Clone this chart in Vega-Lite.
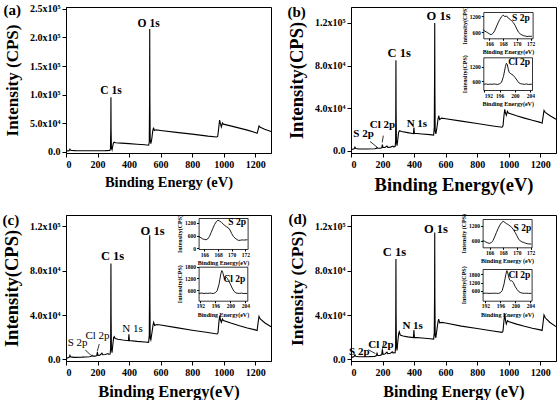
{
"$schema":"https://vega.github.io/schema/vega-lite/v6.json",
"background":"white",
"padding":{"left":2,"top":2,"right":0,"bottom":0},
"bounds":"flush",
"columns":2,
"spacing":{"row":62,"column":80},
"datasets":{
"surveyA":[{"be":0,"cps":800},{"be":10,"cps":1200},{"be":20,"cps":1500},{"be":25,"cps":4000},{"be":28,"cps":2500},{"be":35,"cps":1800},{"be":60,"cps":1500},{"be":100,"cps":1400},{"be":150,"cps":1400},{"be":200,"cps":1400},{"be":250,"cps":1500},{"be":278,"cps":1800},{"be":282,"cps":5000},{"be":284,"cps":40000},{"be":285,"cps":95000},{"be":286,"cps":40000},{"be":288,"cps":6000},{"be":292,"cps":3000},{"be":296,"cps":9000},{"be":300,"cps":14000},{"be":305,"cps":16500},{"be":315,"cps":15500},{"be":350,"cps":14800},{"be":400,"cps":13800},{"be":450,"cps":12800},{"be":500,"cps":11800},{"be":524,"cps":11000},{"be":528,"cps":16000},{"be":530,"cps":90000},{"be":531,"cps":215000},{"be":532,"cps":90000},{"be":534,"cps":20000},{"be":538,"cps":14000},{"be":544,"cps":22000},{"be":550,"cps":36000},{"be":555,"cps":42000},{"be":560,"cps":37000},{"be":570,"cps":38000},{"be":600,"cps":37000},{"be":700,"cps":33500},{"be":800,"cps":30500},{"be":900,"cps":27000},{"be":955,"cps":25500},{"be":962,"cps":26500},{"be":968,"cps":40000},{"be":974,"cps":55000},{"be":980,"cps":48000},{"be":985,"cps":43000},{"be":992,"cps":50000},{"be":998,"cps":48000},{"be":1050,"cps":44500},{"be":1100,"cps":41000},{"be":1150,"cps":37500},{"be":1200,"cps":33500},{"be":1212,"cps":32000},{"be":1218,"cps":38000},{"be":1224,"cps":45000},{"be":1232,"cps":42500},{"be":1260,"cps":39000},{"be":1300,"cps":35000}],
"surveyB":[{"be":0,"cps":1200},{"be":10,"cps":1600},{"be":20,"cps":2000},{"be":25,"cps":3500},{"be":30,"cps":2300},{"be":50,"cps":1900},{"be":100,"cps":1900},{"be":150,"cps":2100},{"be":160,"cps":2400},{"be":165,"cps":3200},{"be":170,"cps":2600},{"be":185,"cps":2500},{"be":195,"cps":2900},{"be":199,"cps":6000},{"be":203,"cps":3200},{"be":215,"cps":3200},{"be":228,"cps":4600},{"be":233,"cps":3400},{"be":250,"cps":3600},{"be":266,"cps":4600},{"be":270,"cps":3900},{"be":280,"cps":4100},{"be":283,"cps":9000},{"be":284,"cps":45000},{"be":285,"cps":85000},{"be":286,"cps":40000},{"be":288,"cps":9000},{"be":292,"cps":5000},{"be":296,"cps":10000},{"be":302,"cps":17500},{"be":308,"cps":19000},{"be":320,"cps":18200},{"be":360,"cps":17200},{"be":396,"cps":16200},{"be":399,"cps":22000},{"be":402,"cps":16500},{"be":450,"cps":15900},{"be":500,"cps":15300},{"be":524,"cps":14900},{"be":528,"cps":22000},{"be":530,"cps":70000},{"be":531,"cps":120000},{"be":532,"cps":60000},{"be":534,"cps":18000},{"be":538,"cps":16000},{"be":545,"cps":22000},{"be":552,"cps":30000},{"be":556,"cps":33000},{"be":562,"cps":29500},{"be":575,"cps":30800},{"be":600,"cps":30200},{"be":700,"cps":28000},{"be":800,"cps":25700},{"be":900,"cps":23400},{"be":958,"cps":22200},{"be":964,"cps":23500},{"be":970,"cps":33000},{"be":975,"cps":39000},{"be":980,"cps":35500},{"be":985,"cps":33500},{"be":992,"cps":37000},{"be":998,"cps":35500},{"be":1050,"cps":33000},{"be":1100,"cps":30800},{"be":1150,"cps":28700},{"be":1200,"cps":26800},{"be":1212,"cps":26000},{"be":1218,"cps":32000},{"be":1224,"cps":38000},{"be":1232,"cps":36200},{"be":1260,"cps":33200},{"be":1300,"cps":29800}],
"surveyC":[{"be":0,"cps":900},{"be":10,"cps":1300},{"be":20,"cps":1800},{"be":25,"cps":3600},{"be":30,"cps":2200},{"be":50,"cps":1800},{"be":100,"cps":2000},{"be":150,"cps":2400},{"be":160,"cps":2700},{"be":165,"cps":3600},{"be":170,"cps":2900},{"be":185,"cps":2900},{"be":195,"cps":3300},{"be":199,"cps":6500},{"be":203,"cps":3600},{"be":215,"cps":3800},{"be":228,"cps":5500},{"be":233,"cps":4200},{"be":250,"cps":4300},{"be":266,"cps":5200},{"be":270,"cps":4600},{"be":280,"cps":4800},{"be":283,"cps":10000},{"be":284,"cps":45000},{"be":285,"cps":86600},{"be":286,"cps":40000},{"be":288,"cps":10000},{"be":292,"cps":6000},{"be":296,"cps":12000},{"be":302,"cps":19500},{"be":306,"cps":20500},{"be":312,"cps":18800},{"be":330,"cps":18200},{"be":360,"cps":17500},{"be":396,"cps":16800},{"be":399,"cps":22500},{"be":402,"cps":17000},{"be":450,"cps":16200},{"be":500,"cps":15600},{"be":524,"cps":15300},{"be":528,"cps":22000},{"be":530,"cps":60000},{"be":531,"cps":112000},{"be":532,"cps":55000},{"be":534,"cps":19000},{"be":538,"cps":17500},{"be":545,"cps":24000},{"be":552,"cps":31000},{"be":556,"cps":33400},{"be":562,"cps":30500},{"be":575,"cps":31500},{"be":600,"cps":31000},{"be":700,"cps":28600},{"be":800,"cps":26300},{"be":900,"cps":24200},{"be":958,"cps":22900},{"be":964,"cps":24000},{"be":970,"cps":34000},{"be":975,"cps":39400},{"be":980,"cps":35500},{"be":985,"cps":33400},{"be":992,"cps":36400},{"be":998,"cps":35000},{"be":1050,"cps":32500},{"be":1100,"cps":30300},{"be":1150,"cps":28300},{"be":1200,"cps":26600},{"be":1212,"cps":26000},{"be":1218,"cps":33000},{"be":1224,"cps":38800},{"be":1232,"cps":36500},{"be":1260,"cps":33000},{"be":1300,"cps":29500}],
"surveyD":[{"be":0,"cps":1500},{"be":10,"cps":2000},{"be":20,"cps":2500},{"be":25,"cps":4200},{"be":30,"cps":2800},{"be":50,"cps":2300},{"be":100,"cps":2400},{"be":150,"cps":2700},{"be":160,"cps":3200},{"be":165,"cps":5500},{"be":170,"cps":3500},{"be":185,"cps":3600},{"be":195,"cps":4200},{"be":199,"cps":9000},{"be":203,"cps":4500},{"be":215,"cps":4800},{"be":228,"cps":6500},{"be":233,"cps":5200},{"be":250,"cps":5500},{"be":262,"cps":6800},{"be":266,"cps":5800},{"be":280,"cps":6000},{"be":283,"cps":12000},{"be":284,"cps":50000},{"be":285,"cps":90500},{"be":286,"cps":42000},{"be":288,"cps":12000},{"be":292,"cps":8000},{"be":296,"cps":15000},{"be":302,"cps":23000},{"be":306,"cps":25000},{"be":312,"cps":22000},{"be":330,"cps":21000},{"be":360,"cps":20300},{"be":396,"cps":19600},{"be":399,"cps":26500},{"be":402,"cps":19800},{"be":450,"cps":19200},{"be":500,"cps":18600},{"be":524,"cps":18300},{"be":528,"cps":24000},{"be":530,"cps":60000},{"be":531,"cps":114600},{"be":532,"cps":55000},{"be":534,"cps":21000},{"be":538,"cps":19500},{"be":545,"cps":27000},{"be":552,"cps":34000},{"be":556,"cps":36400},{"be":562,"cps":33000},{"be":575,"cps":33400},{"be":600,"cps":32800},{"be":700,"cps":30000},{"be":800,"cps":27800},{"be":900,"cps":25600},{"be":958,"cps":24400},{"be":964,"cps":25500},{"be":970,"cps":35000},{"be":975,"cps":40900},{"be":980,"cps":35000},{"be":985,"cps":31900},{"be":992,"cps":34900},{"be":998,"cps":34200},{"be":1050,"cps":31800},{"be":1100,"cps":29800},{"be":1150,"cps":28000},{"be":1200,"cps":26600},{"be":1212,"cps":26000},{"be":1218,"cps":33000},{"be":1224,"cps":40000},{"be":1232,"cps":37500},{"be":1260,"cps":33500},{"be":1300,"cps":29500}],
"s2pB":[{"be":165.1,"cps":700},{"be":165.25,"cps":650},{"be":165.5,"cps":620},{"be":165.75,"cps":580},{"be":166,"cps":540},{"be":166.25,"cps":510},{"be":166.5,"cps":560},{"be":166.75,"cps":650},{"be":167,"cps":800},{"be":167.25,"cps":950},{"be":167.5,"cps":1080},{"be":167.75,"cps":1180},{"be":168,"cps":1240},{"be":168.25,"cps":1190},{"be":168.5,"cps":1210},{"be":168.75,"cps":1130},{"be":169,"cps":1090},{"be":169.25,"cps":1020},{"be":169.5,"cps":960},{"be":169.75,"cps":860},{"be":170,"cps":720},{"be":170.25,"cps":600},{"be":170.5,"cps":540},{"be":170.75,"cps":500},{"be":171,"cps":470},{"be":171.25,"cps":460},{"be":171.5,"cps":440},{"be":171.75,"cps":450},{"be":172.2,"cps":450}],
"cl2pB":[{"be":191.8,"cps":480},{"be":192.5,"cps":490},{"be":193,"cps":470},{"be":193.5,"cps":485},{"be":194,"cps":475},{"be":194.5,"cps":490},{"be":195,"cps":480},{"be":195.5,"cps":470},{"be":196,"cps":500},{"be":196.5,"cps":560},{"be":197,"cps":800},{"be":197.5,"cps":1200},{"be":197.75,"cps":1340},{"be":198,"cps":1290},{"be":198.25,"cps":1100},{"be":198.5,"cps":960},{"be":198.75,"cps":930},{"be":199,"cps":900},{"be":199.25,"cps":880},{"be":199.5,"cps":850},{"be":200,"cps":760},{"be":200.5,"cps":650},{"be":201,"cps":540},{"be":201.5,"cps":500},{"be":202,"cps":485},{"be":202.5,"cps":475},{"be":203,"cps":490},{"be":203.5,"cps":470},{"be":204.4,"cps":480}],
"s2pC":[{"be":165.2,"cps":560},{"be":165.5,"cps":500},{"be":165.75,"cps":450},{"be":166,"cps":420},{"be":166.25,"cps":405},{"be":166.5,"cps":450},{"be":166.75,"cps":560},{"be":167,"cps":750},{"be":167.25,"cps":950},{"be":167.5,"cps":1130},{"be":167.75,"cps":1260},{"be":168,"cps":1335},{"be":168.25,"cps":1290},{"be":168.5,"cps":1230},{"be":168.75,"cps":1150},{"be":169,"cps":1080},{"be":169.25,"cps":1020},{"be":169.5,"cps":975},{"be":169.75,"cps":870},{"be":170,"cps":700},{"be":170.25,"cps":560},{"be":170.5,"cps":480},{"be":170.75,"cps":420},{"be":171,"cps":375},{"be":171.25,"cps":380},{"be":171.5,"cps":400},{"be":171.75,"cps":390},{"be":172.3,"cps":405}],
"cl2pC":[{"be":191.6,"cps":430},{"be":192.5,"cps":440},{"be":193,"cps":420},{"be":193.5,"cps":435},{"be":194,"cps":425},{"be":194.5,"cps":440},{"be":195,"cps":430},{"be":195.5,"cps":420},{"be":196,"cps":460},{"be":196.5,"cps":560},{"be":197,"cps":900},{"be":197.5,"cps":1450},{"be":197.75,"cps":1600},{"be":198,"cps":1500},{"be":198.25,"cps":1300},{"be":198.5,"cps":1150},{"be":198.75,"cps":1200},{"be":199,"cps":1250},{"be":199.25,"cps":1200},{"be":199.5,"cps":1080},{"be":200,"cps":915},{"be":200.5,"cps":700},{"be":201,"cps":530},{"be":201.5,"cps":450},{"be":202,"cps":430},{"be":202.5,"cps":425},{"be":203,"cps":440},{"be":203.5,"cps":420},{"be":204.5,"cps":425}],
"s2pD":[{"be":165,"cps":600},{"be":165.25,"cps":580},{"be":165.5,"cps":540},{"be":165.75,"cps":510},{"be":166,"cps":495},{"be":166.25,"cps":520},{"be":166.5,"cps":600},{"be":166.75,"cps":750},{"be":167,"cps":920},{"be":167.25,"cps":1080},{"be":167.5,"cps":1220},{"be":167.75,"cps":1320},{"be":168,"cps":1375},{"be":168.25,"cps":1330},{"be":168.5,"cps":1280},{"be":168.75,"cps":1240},{"be":169,"cps":1190},{"be":169.25,"cps":1130},{"be":169.5,"cps":1040},{"be":169.75,"cps":930},{"be":170,"cps":800},{"be":170.25,"cps":665},{"be":170.5,"cps":590},{"be":170.75,"cps":550},{"be":171,"cps":530},{"be":171.25,"cps":500},{"be":171.5,"cps":480},{"be":171.75,"cps":470},{"be":172.1,"cps":465}],
"cl2pD":[{"be":191.3,"cps":430},{"be":192,"cps":440},{"be":192.5,"cps":440},{"be":193,"cps":425},{"be":193.5,"cps":435},{"be":194,"cps":430},{"be":194.5,"cps":440},{"be":195,"cps":430},{"be":195.5,"cps":425},{"be":196,"cps":470},{"be":196.5,"cps":620},{"be":197,"cps":1100},{"be":197.5,"cps":1800},{"be":197.75,"cps":2060},{"be":198,"cps":1900},{"be":198.25,"cps":1600},{"be":198.5,"cps":1380},{"be":198.75,"cps":1320},{"be":199,"cps":1340},{"be":199.25,"cps":1300},{"be":199.5,"cps":1200},{"be":200,"cps":900},{"be":200.5,"cps":700},{"be":201,"cps":540},{"be":201.5,"cps":470},{"be":202,"cps":440},{"be":202.5,"cps":430},{"be":203,"cps":440},{"be":203.5,"cps":425},{"be":204.3,"cps":430}],
"majA":[{"be":285,"cps":106500,"label":"C 1s"},{"be":524,"cps":223800,"label":"O 1s"}],
"majB":[{"be":306,"cps":91800,"label":"C 1s"},{"be":555,"cps":126800,"label":"O 1s"}],
"minB":[{"be":418,"cps":25000,"label":"N 1s"},{"be":80,"cps":15500,"label":"S 2p"},{"be":200,"cps":24500,"label":"Cl 2p"}],
"arrB":[{"be":120,"cps":9000,"be2":165,"cps2":3600},{"be":205,"cps":14400,"be2":198,"cps2":8000}],
"majC":[{"be":295,"cps":93000,"label":"C 1s"},{"be":549,"cps":115900,"label":"O 1s"}],
"minC":[{"be":422,"cps":27500,"label":"N 1s"},{"be":74,"cps":15000,"label":"S 2p"},{"be":200,"cps":21000,"label":"Cl 2p"}],
"arrC":[{"be":122,"cps":8400,"be2":158,"cps2":3800},{"be":211,"cps":13800,"be2":198,"cps2":7200}],
"majD":[{"be":275,"cps":97200,"label":"C 1s"},{"be":539,"cps":117700,"label":"O 1s"}],
"minD":[{"be":391,"cps":30300,"label":"N 1s"},{"be":53,"cps":6300,"label":"S 2p"},{"be":190,"cps":12900,"label":"Cl 2p"}],
"arrD":[{"be":110,"cps":8700,"be2":155,"cps2":5200},{"be":210,"cps":15900,"be2":198,"cps2":9500}],
"labS2pB":[{"be":170.6,"cps":1136,"label":"S 2p"}],
"labCl2pB":[{"be":201.1,"cps":1393,"label":"Cl 2p"}],
"labS2pC":[{"be":170.8,"cps":1250,"label":"S 2p"}],
"labCl2pC":[{"be":201.1,"cps":1166,"label":"Cl 2p"}],
"labS2pD":[{"be":170.8,"cps":1108,"label":"S 2p"}],
"labCl2pD":[{"be":201.1,"cps":1771,"label":"Cl 2p"}]
},
"concat":[
{"width":205,"height":146,"title":{"text":"(a)"},
 "encoding":{"x":{"field":"be","type":"quantitative","scale":{"domain":[0,1300],"nice":false,"zero":false},"axis":{"orient":"bottom","values":[0,200,400,600,800,1000,1200],"format":"d","title":"Binding Energy (eV)","titleFontSize":14.5}},
   "y":{"field":"cps","type":"quantitative","scale":{"domain":[-2600,253500],"nice":false,"zero":false},"axis":{"orient":"left","values":[0,50000,100000,150000,200000,250000],"labelExpr":"datum.value == 0 ? '0.0' : datum.value == 50000 ? '5.0x10⁴' : datum.value == 100000 ? '1.0x10⁵' : datum.value == 150000 ? '1.5x10⁵' : datum.value == 200000 ? '2.0x10⁵' : '2.5x10⁵'","title":"Intensity (CPS)","titleFontSize":17}}},
 "layer":[
  {"data":{"name":"surveyA"},"mark":{"type":"line","color":"black","strokeWidth":1.1}},
  {"data":{"name":"majA"},"mark":{"type":"text","fontWeight":"bold","fontSize":11.5},"encoding":{"text":{"field":"label"}}}
 ]},
{"width":205,"height":146,"title":{"text":"(b)"},
 "resolve":{"scale":{"x":"independent","y":"independent"},"axis":{"x":"independent","y":"independent"}},
 "layer":[
  {"encoding":{"x":{"field":"be","type":"quantitative","scale":{"domain":[0,1300],"nice":false,"zero":false},"axis":{"orient":"bottom","values":[0,200,400,600,800,1000,1200],"format":"d","title":"Binding Energy(eV)","titleFontSize":18.5}},
   "y":{"field":"cps","type":"quantitative","scale":{"domain":[-1900,134900],"nice":false,"zero":false},"axis":{"orient":"left","values":[0,40000,80000,120000],"labelExpr":"datum.value == 0 ? '0.0' : datum.value == 40000 ? '4.0x10⁴' : datum.value == 80000 ? '8.0x10⁴' : '1.2x10⁵'","title":"Intensity(CPS)","titleFontSize":18.5}}},
   "layer":[
    {"data":{"name":"surveyB"},"mark":{"type":"line","color":"black","strokeWidth":1.1}},
    {"data":{"name":"majB"},"mark":{"type":"text","fontWeight":"bold","fontSize":12.5},"encoding":{"text":{"field":"label"}}},
    {"data":{"name":"minB"},"mark":{"type":"text","fontWeight":"bold","fontSize":11},"encoding":{"text":{"field":"label"}}},
    {"data":{"name":"arrB"},"mark":{"type":"rule","color":"black","strokeWidth":0.8},"encoding":{"x2":{"field":"be2"},"y2":{"field":"cps2"}}}
   ]},
  {"data":{"name":"s2pB"},"mark":{"type":"line","color":"black","strokeWidth":0.9},
   "encoding":{"x":{"field":"be","type":"quantitative","scale":{"domain":[165.1,172.3],"range":[132.3,181.6],"nice":false,"zero":false},"axis":{"orient":"bottom","offset":-114.7,"values":[166,168,170,172],"format":"d","title":"Binding Energy(eV)","labelFontSize":5.5,"titleFontSize":6,"tickSize":2,"labelPadding":1,"titlePadding":2,"domainWidth":0.8}},
   "y":{"field":"cps","type":"quantitative","scale":{"domain":[375,1361],"range":[31.3,5],"nice":false,"zero":false},"axis":{"orient":"left","offset":-132.3,"values":[600,1200],"format":"d","title":"Intensity(CPS)","labelFontSize":5.5,"titleFontSize":6,"tickSize":2,"labelPadding":1,"titlePadding":2,"domainWidth":0.8}}}},
  {"data":{"name":"labS2pB"},"mark":{"type":"text","fontWeight":"bold","fontSize":9.5},
   "encoding":{"x":{"field":"be","type":"quantitative","scale":{"domain":[165.1,172.3],"range":[132.3,181.6],"nice":false,"zero":false},"axis":{"orient":"top","offset":-5,"ticks":false,"labels":false,"title":null,"domainWidth":0.8}},
   "y":{"field":"cps","type":"quantitative","scale":{"domain":[375,1361],"range":[31.3,5],"nice":false,"zero":false},"axis":{"orient":"right","offset":-23.4,"ticks":false,"labels":false,"title":null,"domainWidth":0.8}},"text":{"field":"label"}}},
  {"data":{"name":"cl2pB"},"mark":{"type":"line","color":"black","strokeWidth":0.9},
   "encoding":{"x":{"field":"be","type":"quantitative","scale":{"domain":[191.74,204.44],"range":[132.3,181.0],"nice":false,"zero":false},"axis":{"orient":"bottom","offset":-63,"values":[192,196,200,204],"format":"d","title":"Binding Energy(eV)","labelFontSize":5.5,"titleFontSize":6,"tickSize":2,"labelPadding":1,"titlePadding":2,"domainWidth":0.8}},
   "y":{"field":"cps","type":"quantitative","scale":{"domain":[242,1586],"range":[83,50.3],"nice":false,"zero":false},"axis":{"orient":"left","offset":-132.3,"values":[600,1200],"format":"d","title":"Intensity(CPS)","labelFontSize":5.5,"titleFontSize":6,"tickSize":2,"labelPadding":1,"titlePadding":2,"domainWidth":0.8}}}},
  {"data":{"name":"labCl2pB"},"mark":{"type":"text","fontWeight":"bold","fontSize":9.5},
   "encoding":{"x":{"field":"be","type":"quantitative","scale":{"domain":[191.74,204.44],"range":[132.3,181.0],"nice":false,"zero":false},"axis":{"orient":"top","offset":-50.3,"ticks":false,"labels":false,"title":null,"domainWidth":0.8}},
   "y":{"field":"cps","type":"quantitative","scale":{"domain":[242,1586],"range":[83,50.3],"nice":false,"zero":false},"axis":{"orient":"right","offset":-24,"ticks":false,"labels":false,"title":null,"domainWidth":0.8}},"text":{"field":"label"}}}
 ]},
{"width":205,"height":146,"title":{"text":"(c)"},
 "resolve":{"scale":{"x":"independent","y":"independent"},"axis":{"x":"independent","y":"independent"}},
 "layer":[
  {"encoding":{"x":{"field":"be","type":"quantitative","scale":{"domain":[0,1300],"nice":false,"zero":false},"axis":{"orient":"bottom","values":[0,200,400,600,800,1000,1200],"format":"d","title":"Binding Energy(eV)","titleFontSize":16.5}},
   "y":{"field":"cps","type":"quantitative","scale":{"domain":[-1500,130300],"nice":false,"zero":false},"axis":{"orient":"left","values":[0,40000,80000,120000],"labelExpr":"datum.value == 0 ? '0.0' : datum.value == 40000 ? '4.0x10⁴' : datum.value == 80000 ? '8.0x10⁴' : '1.2x10⁵'","title":"Intensity(CPS)","titleFontSize":18.5}}},
   "layer":[
    {"data":{"name":"surveyC"},"mark":{"type":"line","color":"black","strokeWidth":1.1}},
    {"data":{"name":"majC"},"mark":{"type":"text","fontWeight":"bold","fontSize":12.5},"encoding":{"text":{"field":"label"}}},
    {"data":{"name":"minC"},"mark":{"type":"text","fontWeight":"normal","fontSize":11},"encoding":{"text":{"field":"label"}}},
    {"data":{"name":"arrC"},"mark":{"type":"rule","color":"black","strokeWidth":0.8},"encoding":{"x2":{"field":"be2"},"y2":{"field":"cps2"}}}
   ]},
  {"data":{"name":"s2pC"},"mark":{"type":"line","color":"black","strokeWidth":0.9},
   "encoding":{"x":{"field":"be","type":"quantitative","scale":{"domain":[165.16,172.33],"range":[132.6,181.6],"nice":false,"zero":false},"axis":{"orient":"bottom","offset":-112,"values":[166,168,170,172],"format":"d","title":"Binding Energy(eV)","labelFontSize":5.5,"titleFontSize":6,"tickSize":2,"labelPadding":1,"titlePadding":2,"domainWidth":0.8}},
   "y":{"field":"cps","type":"quantitative","scale":{"domain":[-33,1437],"range":[34,3],"nice":false,"zero":false},"axis":{"orient":"left","offset":-132.6,"values":[0,600,1200],"format":"d","title":"Intensity(CPS)","labelFontSize":5.5,"titleFontSize":6,"tickSize":2,"labelPadding":1,"titlePadding":2,"domainWidth":0.8}}}},
  {"data":{"name":"labS2pC"},"mark":{"type":"text","fontWeight":"bold","fontSize":9.5},
   "encoding":{"x":{"field":"be","type":"quantitative","scale":{"domain":[165.16,172.33],"range":[132.6,181.6],"nice":false,"zero":false},"axis":{"orient":"top","offset":-3,"ticks":false,"labels":false,"title":null,"domainWidth":0.8}},
   "y":{"field":"cps","type":"quantitative","scale":{"domain":[-33,1437],"range":[34,3],"nice":false,"zero":false},"axis":{"orient":"right","offset":-23.4,"ticks":false,"labels":false,"title":null,"domainWidth":0.8}},"text":{"field":"label"}}},
  {"data":{"name":"cl2pC"},"mark":{"type":"line","color":"black","strokeWidth":0.9},
   "encoding":{"x":{"field":"be","type":"quantitative","scale":{"domain":[191.55,204.54],"range":[132.6,181.3],"nice":false,"zero":false},"axis":{"orient":"bottom","offset":-60.3,"values":[192,196,200,204],"format":"d","title":"Binding Energy(eV)","labelFontSize":5.5,"titleFontSize":6,"tickSize":2,"labelPadding":1,"titlePadding":2,"domainWidth":0.8}},
   "y":{"field":"cps","type":"quantitative","scale":{"domain":[49,1800],"range":[85.7,51.7],"nice":false,"zero":false},"axis":{"orient":"left","offset":-132.6,"values":[600,1200,1800],"format":"d","title":"Intensity(CPS)","labelFontSize":5.5,"titleFontSize":6,"tickSize":2,"labelPadding":1,"titlePadding":2,"domainWidth":0.8}}}},
  {"data":{"name":"labCl2pC"},"mark":{"type":"text","fontWeight":"bold","fontSize":9.5},
   "encoding":{"x":{"field":"be","type":"quantitative","scale":{"domain":[191.55,204.54],"range":[132.6,181.3],"nice":false,"zero":false},"axis":{"orient":"top","offset":-51.7,"ticks":false,"labels":false,"title":null,"domainWidth":0.8}},
   "y":{"field":"cps","type":"quantitative","scale":{"domain":[49,1800],"range":[85.7,51.7],"nice":false,"zero":false},"axis":{"orient":"right","offset":-23.7,"ticks":false,"labels":false,"title":null,"domainWidth":0.8}},"text":{"field":"label"}}}
 ]},
{"width":205,"height":146,"title":{"text":"(d)"},
 "resolve":{"scale":{"x":"independent","y":"independent"},"axis":{"x":"independent","y":"independent"}},
 "layer":[
  {"encoding":{"x":{"field":"be","type":"quantitative","scale":{"domain":[0,1300],"nice":false,"zero":false},"axis":{"orient":"bottom","values":[0,200,400,600,800,1000,1200],"format":"d","title":"Binding Energy (eV)","titleFontSize":16}},
   "y":{"field":"cps","type":"quantitative","scale":{"domain":[-1500,130300],"nice":false,"zero":false},"axis":{"orient":"left","values":[0,40000,80000,120000],"labelExpr":"datum.value == 0 ? '0.0' : datum.value == 40000 ? '4.0x10⁴' : datum.value == 80000 ? '8.0x10⁴' : '1.2x10⁵'","title":"Intensity (CPS)","titleFontSize":17.5}}},
   "layer":[
    {"data":{"name":"surveyD"},"mark":{"type":"line","color":"black","strokeWidth":1.1}},
    {"data":{"name":"majD"},"mark":{"type":"text","fontWeight":"bold","fontSize":12.5},"encoding":{"text":{"field":"label"}}},
    {"data":{"name":"minD"},"mark":{"type":"text","fontWeight":"bold","fontSize":11},"encoding":{"text":{"field":"label"}}},
    {"data":{"name":"arrD"},"mark":{"type":"rule","color":"black","strokeWidth":0.8},"encoding":{"x2":{"field":"be2"},"y2":{"field":"cps2"}}}
   ]},
  {"data":{"name":"s2pD"},"mark":{"type":"line","color":"black","strokeWidth":0.9},
   "encoding":{"x":{"field":"be","type":"quantitative","scale":{"domain":[164.99,172.15],"range":[131.6,180.6],"nice":false,"zero":false},"axis":{"orient":"bottom","offset":-113.7,"values":[166,168,170,172],"format":"d","title":"Binding Energy (eV)","labelFontSize":5.5,"titleFontSize":6,"tickSize":2,"labelPadding":1,"titlePadding":2,"domainWidth":0.8}},
   "y":{"field":"cps","type":"quantitative","scale":{"domain":[336,1468],"range":[32.3,4],"nice":false,"zero":false},"axis":{"orient":"left","offset":-131.6,"values":[600,1200],"format":"d","title":"Intensity (CPS)","labelFontSize":5.5,"titleFontSize":6,"tickSize":2,"labelPadding":1,"titlePadding":2,"domainWidth":0.8}}}},
  {"data":{"name":"labS2pD"},"mark":{"type":"text","fontWeight":"bold","fontSize":9.5},
   "encoding":{"x":{"field":"be","type":"quantitative","scale":{"domain":[164.99,172.15],"range":[131.6,180.6],"nice":false,"zero":false},"axis":{"orient":"top","offset":-4,"ticks":false,"labels":false,"title":null,"domainWidth":0.8}},
   "y":{"field":"cps","type":"quantitative","scale":{"domain":[336,1468],"range":[32.3,4],"nice":false,"zero":false},"axis":{"orient":"right","offset":-24.4,"ticks":false,"labels":false,"title":null,"domainWidth":0.8}},"text":{"field":"label"}}},
  {"data":{"name":"cl2pD"},"mark":{"type":"line","color":"black","strokeWidth":0.9},
   "encoding":{"x":{"field":"be","type":"quantitative","scale":{"domain":[191.29,204.35],"range":[131.6,180.6],"nice":false,"zero":false},"axis":{"orient":"bottom","offset":-60.3,"values":[192,196,200,204],"format":"d","title":"Binding Energy (eV)","labelFontSize":5.5,"titleFontSize":6,"tickSize":2,"labelPadding":1,"titlePadding":2,"domainWidth":0.8}},
   "y":{"field":"cps","type":"quantitative","scale":{"domain":[-100,2180],"range":[85.7,54],"nice":false,"zero":false},"axis":{"orient":"left","offset":-131.6,"values":[600,1200,1800],"format":"d","title":"Intensity(CPS)","labelFontSize":5.5,"titleFontSize":6,"tickSize":2,"labelPadding":1,"titlePadding":2,"domainWidth":0.8}}}},
  {"data":{"name":"labCl2pD"},"mark":{"type":"text","fontWeight":"bold","fontSize":9.5},
   "encoding":{"x":{"field":"be","type":"quantitative","scale":{"domain":[191.29,204.35],"range":[131.6,180.6],"nice":false,"zero":false},"axis":{"orient":"top","offset":-54,"ticks":false,"labels":false,"title":null,"domainWidth":0.8}},
   "y":{"field":"cps","type":"quantitative","scale":{"domain":[-100,2180],"range":[85.7,54],"nice":false,"zero":false},"axis":{"orient":"right","offset":-24.4,"ticks":false,"labels":false,"title":null,"domainWidth":0.8}},"text":{"field":"label"}}}
 ]}
],
"config":{
 "view":{"stroke":"black","strokeWidth":1},
 "axis":{"grid":false,"domainColor":"black","tickColor":"black","labelColor":"black","titleColor":"black","labelFont":"Liberation Serif","titleFont":"Liberation Serif","labelFontWeight":"bold","titleFontWeight":"bold","labelFontSize":10,"titleFontSize":16.5,"tickSize":4,"labelOverlap":false,"labelPadding":2},
 "axisX":{"titlePadding":6},
 "axisY":{"titlePadding":8},
 "title":{"font":"Liberation Serif","fontSize":15,"fontWeight":"bold","color":"black","anchor":"start","frame":"bounds","offset":-14},
 "text":{"font":"Liberation Serif","color":"black"}
}
}
